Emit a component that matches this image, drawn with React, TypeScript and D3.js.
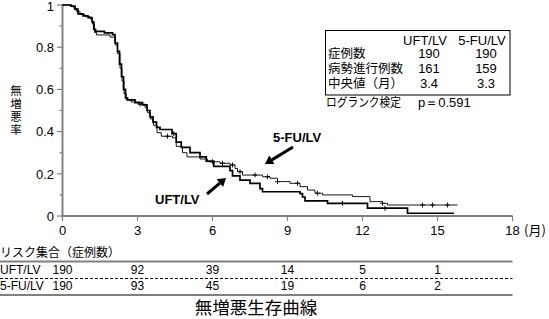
import React from "react";
import * as d3 from "d3";

// ---- data ----
const xTicks = [0, 3, 6, 9, 12, 15, 18];
const yTicks = [0, 0.2, 0.4, 0.6, 0.8, 1];
const yMinorTicks = [0.1, 0.3, 0.5, 0.7, 0.9];

// Kaplan–Meier steps [months, survival]
const uftSteps: [number, number][] = [
  [0, 1], [0.35, 0.995], [0.5, 0.98], [0.62, 0.958], [0.82, 0.948], [1.02, 0.94],
  [1.18, 0.92], [1.25, 0.885], [1.32, 0.875], [1.68, 0.868], [2.0, 0.86], [2.1, 0.82],
  [2.2, 0.78], [2.28, 0.72], [2.36, 0.66], [2.44, 0.6], [2.52, 0.56], [2.6, 0.55],
  [2.9, 0.537], [3.2, 0.527], [3.38, 0.5], [3.5, 0.47], [3.62, 0.445], [3.76, 0.42],
  [3.9, 0.41], [4.38, 0.39], [4.55, 0.35], [4.75, 0.325], [5.1, 0.3], [5.5, 0.28],
  [5.75, 0.26], [6.05, 0.235], [6.7, 0.215], [6.8, 0.19], [7.1, 0.17], [7.5, 0.155],
  [7.9, 0.13], [8.0, 0.115], [9.5, 0.106], [9.6, 0.09], [9.7, 0.072], [10.6, 0.06],
  [12.2, 0.037], [13.8, 0.013], [15.66, 0.013],
];
const fuSteps: [number, number][] = [
  [0, 1], [0.3, 0.995], [0.45, 0.985], [0.55, 0.97], [0.7, 0.955], [0.9, 0.945],
  [1.1, 0.935], [1.2, 0.91], [1.28, 0.87], [1.36, 0.858], [1.9, 0.848], [2.12, 0.81],
  [2.2, 0.77], [2.3, 0.7], [2.38, 0.64], [2.46, 0.58], [2.55, 0.55], [2.75, 0.54],
  [3.05, 0.53], [3.3, 0.515], [3.4, 0.49], [3.52, 0.46], [3.64, 0.43], [3.78, 0.395],
  [3.95, 0.378], [4.4, 0.37], [4.55, 0.33], [4.8, 0.3], [4.98, 0.28], [5.5, 0.27],
  [5.8, 0.257], [6.3, 0.25], [6.7, 0.242], [6.9, 0.225], [7.0, 0.21], [7.2, 0.194],
  [8.0, 0.186], [8.3, 0.179], [8.6, 0.163], [9.1, 0.155], [9.5, 0.139], [9.8, 0.123],
  [10.1, 0.108], [10.4, 0.1], [11.6, 0.092], [12.3, 0.068], [12.8, 0.06], [13.0, 0.052],
  [15.8, 0.052],
];
const fuCensor = [3.1, 4.2, 6.0, 6.4, 6.8, 7.1, 7.7, 8.2, 8.6, 9.4, 10.2, 12.8, 14.4, 14.8, 15.4];
const uftCensor = [4.45, 11.2, 12.9];

const yLabelChars = ["無", "増", "悪", "率"];
const tableHeader = ["UFT/LV", "5-FU/LV"];
const tableRows = ["症例数", "病勢進行例数", "中央値（月）"];
const uftVals = ["190", "161", "3.4"];
const fuVals = ["190", "159", "3.3"];

const riskTimes = [0, 3, 6, 9, 12, 15];
const uftRisk = [190, 92, 39, 14, 5, 1];
const fuRisk = [190, 93, 45, 19, 6, 2];

const LAT = "'Liberation Sans', Arial, Helvetica, sans-serif";
const CJK = "'Noto Sans CJK JP', 'Noto Sans', sans-serif";

function stepAt(steps: [number, number][], t: number) {
  let s = steps[0][1];
  for (const [tt, v] of steps) if (tt <= t) s = v;
  return s;
}

export default function App() {
  const x = d3.scaleLinear().domain([0, 18]).range([62.5, 512.5]);
  const y = d3.scaleLinear().domain([0, 1]).range([216, 5]);
  const line = d3
    .line<[number, number]>()
    .x((d) => x(d[0]))
    .y((d) => y(d[1]))
    .curve(d3.curveStepAfter);
  const axisCol = "#808080";

  const arrow = (x1: number, y1: number, x2: number, y2: number) => {
    const ang = Math.atan2(y2 - y1, x2 - x1);
    const hl = 8, hw = 5;
    const bx = x2 - hl * Math.cos(ang), by = y2 - hl * Math.sin(ang);
    const px = -Math.sin(ang) * hw, py = Math.cos(ang) * hw;
    return (
      <g>
        <line x1={x1} y1={y1} x2={bx} y2={by} stroke="#000" strokeWidth={3} />
        <polygon points={`${x2},${y2} ${bx + px},${by + py} ${bx - px},${by - py}`} fill="#000" />
      </g>
    );
  };

  return (
    <svg width={549} height={319} style={{ position: "absolute", left: 0, top: 0, background: "#fff" }}>
      {/* y axis */}
      <line x1={62.5} y1={y(1) - 1} x2={62.5} y2={216} stroke={axisCol} strokeWidth={2} />
      {yTicks.map((t) => (
        <g key={t}>
          <line x1={57} x2={62.5} y1={y(t)} y2={y(t)} stroke={axisCol} strokeWidth={1.2} />
          <text x={54} y={Math.max(y(t) + 4.7, 10.5)} textAnchor="end" fontFamily={LAT} fontSize={13} fill="#000">
            {t === 0 || t === 1 ? String(t) : t.toFixed(1)}
          </text>
        </g>
      ))}
      {yMinorTicks.map((t) => (
        <line key={t} x1={59.5} x2={62.5} y1={y(t)} y2={y(t)} stroke={axisCol} strokeWidth={1.2} />
      ))}
      {/* x axis */}
      <line x1={61.5} y1={216} x2={x(18)} y2={216} stroke={axisCol} strokeWidth={2} />
      {xTicks.map((t) => (
        <g key={t}>
          <line x1={x(t)} x2={x(t)} y1={216} y2={221} stroke={axisCol} strokeWidth={1.2} />
          <text x={x(t)} y={235} textAnchor="middle" fontFamily={LAT} fontSize={13} fill="#000">
            {t}
          </text>
        </g>
      ))}
      <text x={524} y={235} fontFamily={CJK} fontSize={13} fill="#000">(月)</text>

      {/* y label */}
      {yLabelChars.map((c, i) => (
        <text key={i} x={16} y={95 + i * 13} textAnchor="middle" fontFamily={CJK} fontSize={11.5} fill="#000">
          {c}
        </text>
      ))}

      {/* curves */}
      <path d={line(fuSteps) || ""} fill="none" stroke="#000" strokeWidth={0.9} />
      <path d={line(uftSteps) || ""} fill="none" stroke="#000" strokeWidth={1.7} />
      {fuCensor.map((t, i) => {
        const cx = x(t), cy = y(stepAt(fuSteps, t));
        return (
          <g key={"f" + i} stroke="#000" strokeWidth={0.9}>
            <line x1={cx} x2={cx} y1={cy - 2.5} y2={cy + 2.5} />
            <line x1={cx - 2.5} x2={cx + 2.5} y1={cy} y2={cy} />
          </g>
        );
      })}
      {uftCensor.map((t, i) => {
        const cx = x(t), cy = y(stepAt(uftSteps, t));
        return <line key={"u" + i} x1={cx} x2={cx} y1={cy - 2.5} y2={cy + 2.5} stroke="#000" strokeWidth={1} />;
      })}

      {/* annotations */}
      <text x={273} y={141.5} fontFamily={LAT} fontWeight="bold" fontSize={13} fill="#000">5-FU/LV</text>
      {arrow(293, 147, 265, 164)}
      <text x={155} y={204} fontFamily={LAT} fontWeight="bold" fontSize={13} fill="#000">UFT/LV</text>
      {arrow(207, 194, 226, 178)}

      {/* stats table */}
      <rect x={325.5} y={30.5} width={184.5} height={64.5} fill="none" stroke="#000" strokeWidth={1} />
      <text x={425} y={44.5} textAnchor="middle" fontFamily={LAT} fontSize={13} fill="#000">{tableHeader[0]}</text>
      <text x={482} y={44.5} textAnchor="middle" fontFamily={LAT} fontSize={13} fill="#000">{tableHeader[1]}</text>
      {tableRows.map((r, i) => (
        <g key={r}>
          <text x={328} y={58 + i * 15.2} fontFamily={CJK} fontSize={12.5} fill="#000">{r}</text>
          <text x={429} y={58 + i * 15.2} textAnchor="middle" fontFamily={LAT} fontSize={13} fill="#000">{uftVals[i]}</text>
          <text x={486} y={58 + i * 15.2} textAnchor="middle" fontFamily={LAT} fontSize={13} fill="#000">{fuVals[i]}</text>
        </g>
      ))}
      <text x={326} y={107} fontFamily={CJK} fontSize={12} textLength={75} lengthAdjust="spacingAndGlyphs" fill="#000">ログランク検定</text>
      <text x={418} y={107} fontFamily={LAT} fontSize={13} fill="#000">p＝0.591</text>

      {/* risk table */}
      <text x={0} y={256.5} fontFamily={CJK} fontSize={12} fill="#000">リスク集合（症例数）</text>
      <line x1={0} x2={x(18)} y1={261.5} y2={261.5} stroke={axisCol} strokeWidth={2} />
      <text x={0} y={274} fontFamily={LAT} fontSize={12} fill="#000">UFT/LV</text>
      {riskTimes.map((t, i) => (
        <text key={"ur" + t} x={x(t)} y={274} textAnchor="middle" fontFamily={LAT} fontSize={12} fill="#000">
          {uftRisk[i]}
        </text>
      ))}
      <line x1={0} x2={x(18)} y1={278.5} y2={278.5} stroke="#000" strokeWidth={1} strokeDasharray="3,2" />
      <text x={0} y={289.5} fontFamily={LAT} fontSize={12} fill="#000">5-FU/LV</text>
      {riskTimes.map((t, i) => (
        <text key={"fr" + t} x={x(t)} y={289.5} textAnchor="middle" fontFamily={LAT} fontSize={12} fill="#000">
          {fuRisk[i]}
        </text>
      ))}
      <line x1={0} x2={x(18)} y1={295} y2={295} stroke={axisCol} strokeWidth={2} />

      {/* title */}
      <text x={256} y={314} textAnchor="middle" fontFamily={CJK} fontSize={17.5} fill="#000">無増悪生存曲線</text>
    </svg>
  );
}
